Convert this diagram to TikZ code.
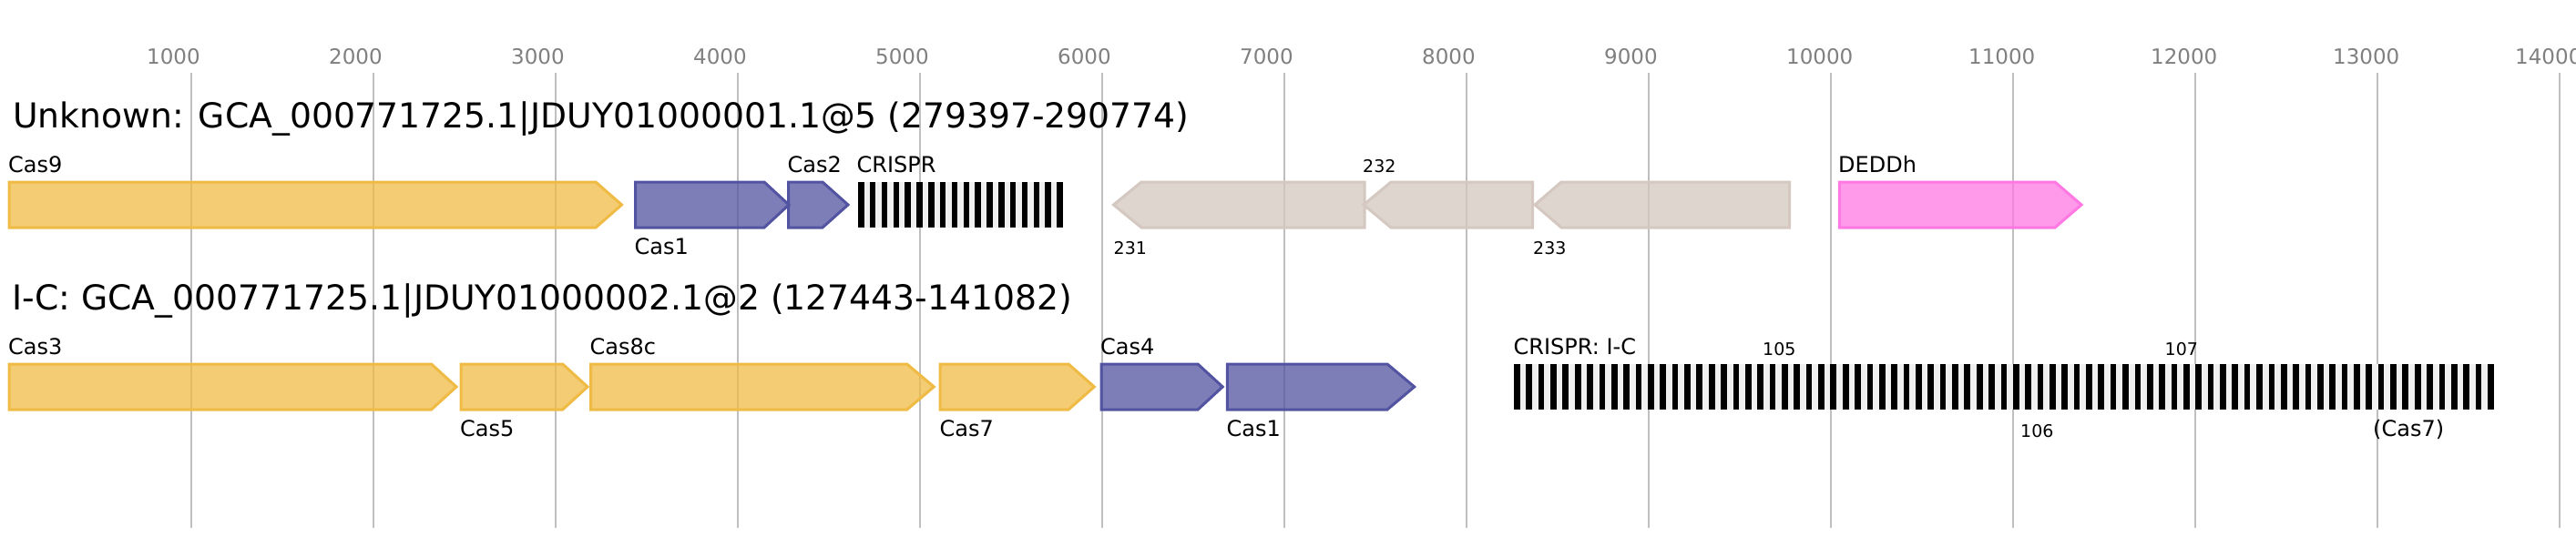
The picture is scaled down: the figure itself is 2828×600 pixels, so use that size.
\documentclass[tikz,border=0pt]{standalone}
\usepackage{fontspec}
\setmainfont{DejaVu Sans}
\definecolor{ystroke}{HTML}{EFBB45}
\definecolor{bstroke}{HTML}{5254A1}
\definecolor{gstroke}{HTML}{D4C8C0}
\definecolor{pstroke}{HTML}{FF78E3}
\definecolor{gridgray}{HTML}{BFBFBF}
\definecolor{tickgray}{HTML}{808080}
\definecolor{spacergray}{HTML}{F0F0F0}
\tikzset{
  gene/.style={line width=3pt, line join=miter, fill opacity=0.75},
  ygene/.style={gene, draw=ystroke, fill=ystroke},
  bgene/.style={gene, draw=bstroke, fill=bstroke},
  ggene/.style={gene, draw=gstroke, fill=gstroke},
  pgene/.style={gene, draw=pstroke, fill=pstroke},
  gridline/.style={draw=gridgray, line width=1.5pt},
  ticklab/.style={anchor=base west, inner sep=0pt, text=tickgray, font=\fontsize{23}{23}\selectfont},
  titlelab/.style={anchor=base west, inner sep=0pt, font=\fontsize{37.7}{37.7}\selectfont},
  genelab/.style={anchor=base west, inner sep=0pt, font=\fontsize{24}{24}\selectfont},
  smalllab/.style={anchor=base west, inner sep=0pt, font=\fontsize{19}{19}\selectfont},
}
% forward gene: style, left, headstart, tip, ytop
\newcommand{\fgene}[5]{\draw[#1] (#2,#5) -- (#3,#5) -- (#4,{#5+25}) -- (#3,{#5+50}) -- (#2,{#5+50}) -- cycle;}
% reverse gene: style, tip, headstart, right, ytop
\newcommand{\rgene}[5]{\draw[#1] (#4,#5) -- (#3,#5) -- (#2,{#5+25}) -- (#3,{#5+50}) -- (#4,{#5+50}) -- cycle;}
% crispr array: x0, x1, ytop, n-1, black width
\newcommand{\crarray}[5]{%
  \fill[spacergray] (#1,#3) rectangle (#2,{#3+50});
  \pgfmathsetmacro{\crper}{(#2-#1-#5)/#4}
  \foreach \i in {0,...,#4} {\fill[black] ({#1+\i*\crper},#3) rectangle ({#1+\i*\crper+#5},{#3+50});}
}
\begin{document}
\begin{tikzpicture}[x=1pt, y=-1pt]
\useasboundingbox (0,0) rectangle (2828,600);
\fill[white] (0,0) rectangle (2828,600);
% grid and ticks
\foreach \k in {1,...,14} {
  \draw[gridline] ({10+200*\k},80) -- ({10+200*\k},580);
  \node[ticklab] (tick\k) at ({10+200*\k-49},70) {\the\numexpr\k*1000\relax};
}
% ---- row 1 ----
\node[titlelab] (title1) at (14,140) {Unknown: GCA\_000771725.1|JDUY01000001.1@5 (279397-290774)};
\fgene{ygene}{10}{654}{682.5}{200}
\fgene{bgene}{697.5}{839}{866}{200}
\fgene{bgene}{865.5}{903}{931}{200}
\crarray{942}{1166.7}{200}{17}{6.5}
\rgene{ggene}{1222.5}{1253}{1498}{200}
\rgene{ggene}{1497}{1527}{1682.5}{200}
\rgene{ggene}{1685}{1714}{1964.5}{200}
\fgene{pgene}{2019.3}{2256}{2285}{200}
\node[genelab] (l9) at (9,189) {Cas9};
\node[genelab] (l1a) at (696.5,279) {Cas1};
\node[genelab] (l2) at (864.5,189) {Cas2};
\node[genelab] (lcr1) at (940.5,189) {CRISPR};
\node[smalllab] (l231) at (1222.5,279) {231};
\node[smalllab] (l232) at (1496,189) {232};
\node[smalllab] (l233) at (1683,279) {233};
\node[genelab] (lded) at (2018,189) {DEDDh};
% ---- row 2 ----
\node[titlelab] (title2) at (13.5,340) {I-C: GCA\_000771725.1|JDUY01000002.1@2 (127443-141082)};
\fgene{ygene}{10}{473.6}{501}{400}
\fgene{ygene}{506}{617.7}{645}{400}
\fgene{ygene}{648.5}{995.7}{1025.3}{400}
\fgene{ygene}{1032.2}{1173}{1201.3}{400}
\fgene{bgene}{1209}{1315}{1342.2}{400}
\fgene{bgene}{1347.3}{1523}{1552.7}{400}
\crarray{1662}{2737.7}{400}{80}{6.7}
\node[genelab] (l3) at (9,389) {Cas3};
\node[genelab] (l5) at (505,479) {Cas5};
\node[genelab] (l8c) at (647.5,389) {Cas8c};
\node[genelab] (l7) at (1031.5,479) {Cas7};
\node[genelab] (l4) at (1208,389) {Cas4};
\node[genelab] (l1b) at (1346.5,479) {Cas1};
\node[genelab] (lcr2) at (1661.5,389) {CRISPR: I-C};
\node[smalllab] (l105) at (1935,390) {105};
\node[smalllab] (l106) at (2218,480) {106};
\node[smalllab] (l107) at (2376.5,390) {107};
\node[genelab] (lc7) at (2605,479) {(Cas7)};
\end{tikzpicture}
\end{document}
